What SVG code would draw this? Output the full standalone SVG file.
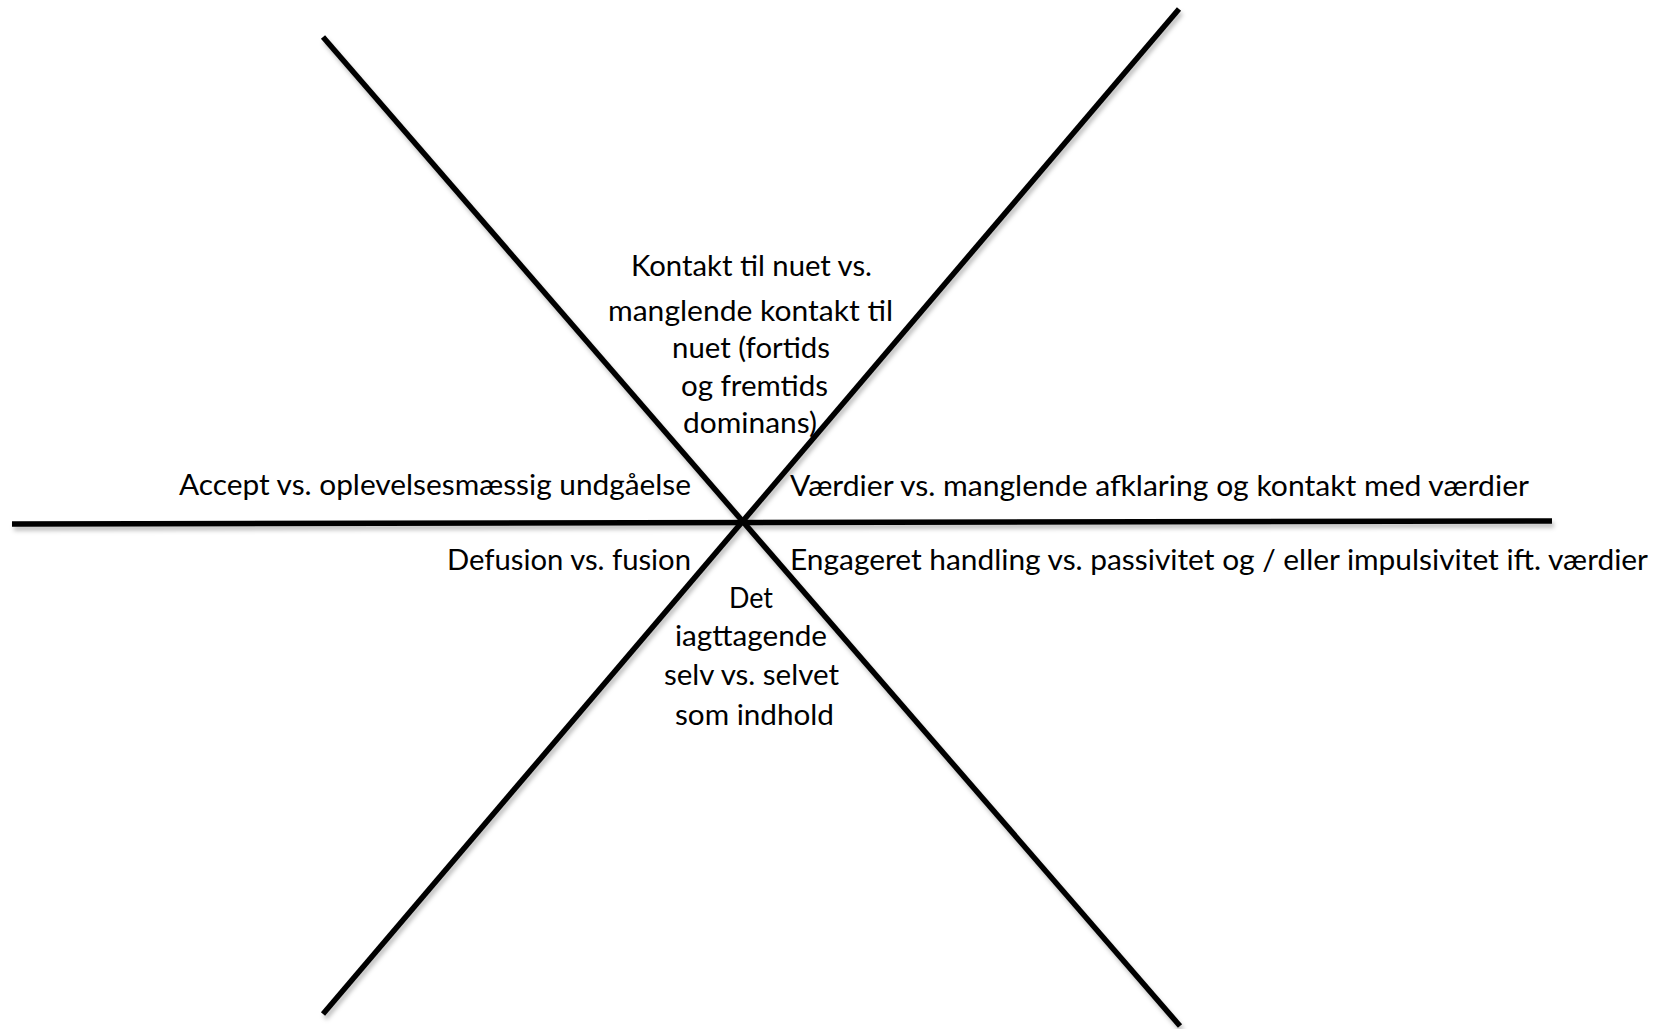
<svg xmlns="http://www.w3.org/2000/svg" width="1668" height="1029" viewBox="0 0 1668 1029">
<style>
  .ax { stroke:#000; stroke-width:5.5; fill:none; stroke-linecap:butt; }
  .t { font-family:Lato, "Liberation Sans", sans-serif; font-size:29px; fill:#000; }
</style>
<defs>
  <filter id="sh" x="-5%" y="-5%" width="110%" height="110%">
    <feDropShadow dx="2" dy="4" stdDeviation="2" flood-color="#000" flood-opacity="0.25"/>
  </filter>
</defs>
<rect width="1668" height="1029" fill="#fff"/>
<g id="connectors" filter="url(#sh)">
  <line class="ax" x1="12" y1="524" x2="1552" y2="521"/>
  <line class="ax" x1="323" y1="37" x2="1180" y2="1026"/>
  <line class="ax" x1="1179" y1="9" x2="323" y2="1014"/>
</g>
<g id="node-kontakt">
  <text class="t" x="631" y="276" textLength="241" lengthAdjust="spacingAndGlyphs">Kontakt til nuet vs.</text>
  <text class="t" x="608" y="321" textLength="285" lengthAdjust="spacingAndGlyphs">manglende kontakt til</text>
  <text class="t" x="672" y="358" textLength="158" lengthAdjust="spacingAndGlyphs">nuet (fortids</text>
  <text class="t" x="681" y="396" textLength="147" lengthAdjust="spacingAndGlyphs">og fremtids</text>
  <text class="t" x="683" y="433" textLength="134" lengthAdjust="spacingAndGlyphs">dominans)</text>
</g>
<g id="node-accept">
  <text class="t" x="179" y="495" textLength="512" lengthAdjust="spacingAndGlyphs">Accept vs. oplevelsesmæssig undgåelse</text>
</g>
<g id="node-vaerdier">
  <text class="t" x="790" y="496" textLength="739" lengthAdjust="spacingAndGlyphs">Værdier vs. manglende afklaring og kontakt med værdier</text>
</g>
<g id="node-defusion">
  <text class="t" x="447" y="570" textLength="244" lengthAdjust="spacingAndGlyphs">Defusion vs. fusion</text>
</g>
<g id="node-engageret">
  <text class="t" x="790" y="570" textLength="858" lengthAdjust="spacingAndGlyphs">Engageret handling vs. passivitet og / eller impulsivitet ift. værdier</text>
</g>
<g id="node-selv">
  <text class="t" x="729" y="608" textLength="44" lengthAdjust="spacingAndGlyphs">Det</text>
  <text class="t" x="675" y="646" textLength="152" lengthAdjust="spacingAndGlyphs">iagttagende</text>
  <text class="t" x="664" y="685" textLength="175" lengthAdjust="spacingAndGlyphs">selv vs. selvet</text>
  <text class="t" x="675" y="725" textLength="159" lengthAdjust="spacingAndGlyphs">som indhold</text>
</g>
</svg>
